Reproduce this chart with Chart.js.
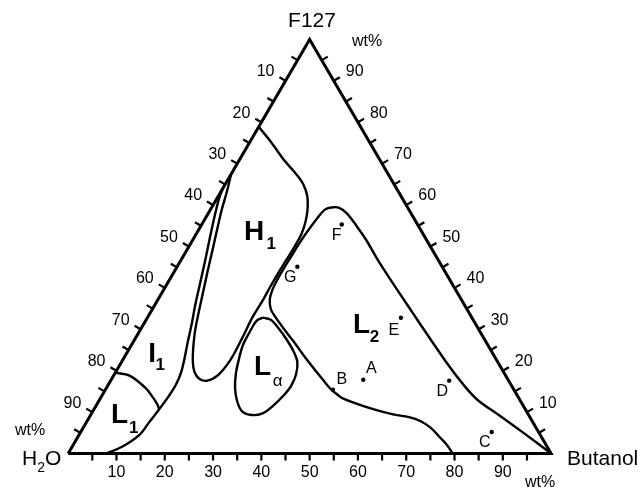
<!DOCTYPE html>
<html>
<head>
<meta charset="utf-8">
<script src="https://cdn.jsdelivr.net/npm/chart.js@4.4.1/dist/chart.umd.min.js"></script>
<style>
  html, body { margin: 0; padding: 0; background: #fff; }
</style>
</head>
<body>
<canvas id="phaseChart" width="643" height="490"></canvas>
<script>
// compositions are [butanol wt%, F127 wt%], water is the rest
const l1Boundary = [[0,19.5],[3.3,18.8],[8.0,15.9],[10.5,13.8],[12.5,11.9],[13.5,10.7]];

const i1Boundary = [[7.8,0],[10.4,1.7],[12.5,4.5],[13.0,7.6],[13.5,10.7],[13.9,14.0],[14.0,16.6],
  [13.6,19.5],[12.6,23.0],[11.4,26.6],[9.9,31.4],[8.3,36.1],[6.7,41.3],[5.0,46.8],[3.1,52.7],
  [1.4,58.2],[0.4,61.8],[0,64.3]];

const h1Boundary = [[0,78.9],[4.3,75.3],[9.1,71.0],[13.2,67.7],[16.1,65.1],[18.4,62.2],[20.2,58.7],
  [21.2,55.8],[21.8,53.0],[21.9,49.9],[21.8,46.8],[21.7,43.7],[21.7,40.4],[21.8,37.1],[21.7,33.0],
  [22.1,27.8],[22.3,22.6],[21.6,19.0],[20.0,17.6],[18.2,18.0],[16.3,19.7],[14.3,23.0],[11.7,29.0],
  [10.1,33.7],[8.6,38.5],[6.9,43.9],[5.3,49.2],[3.7,54.4],[2.3,59.1],[1.2,63.4],[0,67.5]];

const laBoundary = [[23.9,32.8],[25.8,32.3],[28.5,30.2],[31.4,27.6],[34.3,24.7],[36.4,22.1],[37.6,19.2],
  [38.0,16.4],[37.6,14.0],[36.6,11.4],[35.4,9.7],[33.4,9.3],[30.9,10.2],[28.7,12.6],[26.6,15.9],
  [25.0,19.5],[23.9,23.0],[23.1,26.1],[22.9,29.5],[23.0,32.1],[23.9,32.8]];

const l2Boundary = [[79.6,0],[77.6,1.9],[74.9,4.0],[72.0,6.2],[69.1,7.8],[66.2,8.8],[62.3,9.5],[56.2,11.2],
  [50.2,13.3],[48.5,14.3],[46.4,15.7],[43.5,18.1],[40.4,20.7],[36.8,23.8],[33.1,27.1],[29.5,30.2],
  [26.6,32.8],[24.5,34.9],[23.1,37.3],[22.5,39.7],[22.3,42.0],[22.3,44.9],[22.4,48.0],[22.5,51.1],
  [22.8,54.2],[23.2,57.0],[23.7,58.9],[24.7,59.4],[26.3,59.4],[28.7,58.0],[32.3,54.9],[36.0,51.5],
  [41.4,46.1],[54.1,34.2],[67.0,22.3],[73.8,16.4],[78.5,12.8],[84.2,9.5],[92.1,4.8],[100,0]];

// samples
const sampleNames = ['A', 'B', 'C', 'D', 'E', 'F', 'G'];
const sampleButanol = [52.2, 47.1, 85.1, 70.1, 52.5, 29.0, 24.9];
const sampleF127 = [17.8, 15.4, 5.2, 17.6, 32.8, 55.3, 45.1];

// phase names and where they sit
const phaseNames = ['H', 'L', 'L', 'I', 'L'];
const phaseSubs = ['1', '2', 'α', '1', '1'];
const phaseButanol = [11.8, 45.3, 29.8, 5.4, 6.0];
const phaseF127 = [53.4, 30.9, 20.9, 24.0, 9.3];

const tickValues = [5,10,15,20,25,30,35,40,45,50,55,60,65,70,75,80,85,90,95];
const tickLabels = [10,20,30,40,50,60,70,80,90];

const corners = [[0,0],[100,0],[0,100],[0,0]];

const toXY = ([b, f]) => ({ x: b + f / 2, y: f });

function curve(pts) {
  return {
    data: pts.map(toXY),
    showLine: true,
    pointRadius: 0,
    borderColor: '#000',
    borderWidth: 2.4,
    tension: 0.35,
    clip: false
  };
}

const FONT = "'Liberation Sans', Arial, sans-serif";

// offsets of the sample letters from their dots
const sampleOffsets = { A: [8,-11], B: [9,-10], C: [-7,11], D: [-7,11], E: [-7,13], F: [-5,11], G: [-7,11] };
// subscript offsets for the phase labels
const subOffsets = [[17,12],[13,12],[15,14],[8,11],[14,13]];

const ternaryFrame = {
  id: 'ternaryFrame',
  afterDatasetsDraw(chart) {
    const ctx = chart.ctx;
    const xs = chart.scales.x, ys = chart.scales.y;
    const pix = (b, f) => ({ x: xs.getPixelForValue(b + f / 2), y: ys.getPixelForValue(f) });
    const seg = (x1, y1, x2, y2) => { ctx.beginPath(); ctx.moveTo(x1, y1); ctx.lineTo(x2, y2); ctx.stroke(); };
    const text = (t, x, y, font, align) => {
      ctx.font = font; ctx.textAlign = align || 'center'; ctx.textBaseline = 'middle'; ctx.fillText(t, x, y);
    };
    const len = 7, cx = Math.cos(Math.PI / 6), sy = 0.5;

    ctx.save();
    ctx.strokeStyle = '#000';
    ctx.fillStyle = '#000';
    ctx.lineWidth = 2.2;

    tickValues.forEach(v => {
      const bot = pix(v, 0), lef = pix(0, 100 - v), rig = pix(100 - v, v);
      seg(bot.x, bot.y, bot.x, bot.y + len);
      seg(lef.x, lef.y, lef.x - len * cx, lef.y - len * sy);
      seg(rig.x, rig.y, rig.x + len * cx, rig.y - len * sy);
    });

    const f16 = '16px ' + FONT;
    tickLabels.forEach(v => {
      const bot = pix(v, 0), lef = pix(0, 100 - v), rig = pix(100 - v, v);
      text(String(v), bot.x, bot.y + 19, f16);
      text(String(v), lef.x - 11, lef.y - 9, f16, 'right');
      text(String(v), rig.x + 12, rig.y - 9, f16, 'left');
    });

    // wt% marks
    text('wt%', 30, 431, f16);
    text('wt%', 367, 42, f16);
    text('wt%', 540, 483, f16);

    // corner names
    const big = '21px ' + FONT;
    text('F127', 312, 21, big);
    text('Butanol', 567, 459, big, 'left');
    ctx.font = big;
    const wH = ctx.measureText('H').width;
    ctx.font = '14px ' + FONT;
    const w2 = ctx.measureText('2').width;
    text('H', 22, 459, big, 'left');
    text('2', 22 + wH, 468, '14px ' + FONT, 'left');
    text('O', 22 + wH + w2, 459, big, 'left');

    // sample letters
    sampleNames.forEach((n, i) => {
      const p = pix(sampleButanol[i], sampleF127[i]);
      const o = sampleOffsets[n];
      text(n, p.x + o[0], p.y + o[1], f16);
    });

    // phase labels
    phaseNames.forEach((n, i) => {
      const p = pix(phaseButanol[i], phaseF127[i]);
      text(n, p.x, p.y, 'bold 28px ' + FONT);
      const sub = phaseSubs[i];
      const sf = sub === 'α' ? '17px ' + FONT : 'bold 17px ' + FONT;
      text(sub, p.x + subOffsets[i][0], p.y + subOffsets[i][1], sf);
    });

    ctx.restore();
  }
};

new Chart(document.getElementById('phaseChart'), {
  type: 'scatter',
  data: {
    datasets: [
      { data: corners.map(toXY), showLine: true, pointRadius: 0, borderColor: '#000',
        borderWidth: 3, borderJoinStyle: 'miter', tension: 0, clip: false },
      curve(l1Boundary),
      curve(i1Boundary),
      curve(h1Boundary),
      curve(laBoundary),
      curve(l2Boundary),
      { data: sampleNames.map((n, i) => toXY([sampleButanol[i], sampleF127[i]])),
        showLine: false, pointRadius: 2.2, pointBackgroundColor: '#000', pointBorderWidth: 0, clip: false }
    ]
  },
  options: {
    responsive: false,
    animation: false,
    devicePixelRatio: 1,
    layout: { padding: 0 },
    plugins: { legend: { display: false }, tooltip: { enabled: false } },
    scales: {
      x: { type: 'linear', display: false, min: -13.29, max: 118.2 },
      y: { type: 'linear', display: false, min: -7.84, max: 108.55 }
    }
  },
  plugins: [ternaryFrame]
});
</script>
</body>
</html>
